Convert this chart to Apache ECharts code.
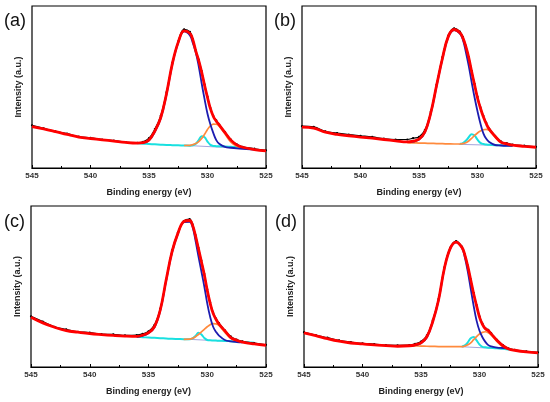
<!DOCTYPE html>
<html>
<head>
<meta charset="utf-8">
<script src="https://cdn.jsdelivr.net/npm/echarts/dist/echarts.min.js"></script>
<style>
	html, body { margin: 0; padding: 0; background: #fff; }
	#xps { width: 550px; height: 402px; }
</style>
</head>
<body>
<div id="xps"></div>
<script>
/** O 1s 谱 四个面板 */
// 结合能网格 (eV), 峰区加密
let energy = [545, 544, 543, 542, 541, 540, 539, 538, 537, 536, 535.5, 535, 534.5, 534, 533.5, 533, 532.5, 532, 531.5, 531.25, 531, 530.75, 530.5, 530.25, 530, 529.75, 529.5, 529.25, 529, 528.5, 528, 527.5, 527, 526, 525];
let x_ticks = [545, 540, 535, 530, 525];
let panel_names = ["(a)", "(b)", "(c)", "(d)"];

// (a)
let dataA = [26.4, 24.5, 22.6, 21.2, 19.4, 18.6, 17.5, 16.9, 16.0, 15.5, 16.2, 18.4, 24.0, 32.2, 46.8, 65.0, 78.2, 85.6, 84.0, 79.4, 72.6, 66.9, 59.8, 51.6, 44.0, 37.0, 32.0, 29.4, 26.8, 22.1, 17.5, 14.6, 13.0, 11.9, 10.9];
let fitA = [25.6, 24.2, 22.5, 20.7, 19.1, 18.2, 17.4, 16.6, 15.8, 15.4, 15.6, 17.3, 22.8, 31.0, 46.0, 64.6, 77.7, 84.7, 83.1, 79.0, 72.2, 66.3, 59.2, 51.0, 43.5, 36.6, 31.8, 28.9, 26.6, 21.8, 17.2, 14.3, 12.8, 11.4, 10.6];
let peak1A = [null, null, null, null, null, null, null, null, null, 15.4, 15.5, 17.0, 22.3, 30.5, 45.5, 64.2, 77.3, 84.3, 81.8, 77.0, 71.3, 62.8, 52.3, 42.5, 33.5, 26.8, 21.5, 17.2, 15.0, 13.0, 12.5, 12.1, 11.8, 11.3, null];
let peak2A = [null, null, null, null, null, null, null, null, null, 15.2, 15.0, 14.8, 14.6, 14.4, 14.2, 14.1, 14.0, 13.9, 13.8, 14.0, 15.0, 17.2, 19.6, 19.0, 16.3, 14.3, 13.6, 13.5, 13.4, 13.3, 13.1, 12.9, 12.6, 11.6, null];
let peak3A = [null, null, null, null, null, null, null, null, null, null, null, null, null, null, null, null, null, 13.9, 14.0, 14.4, 15.1, 16.3, 18.2, 20.8, 23.8, 26.0, 27.1, 27.0, 25.8, 21.0, 16.0, 13.5, 12.6, null, null];
let bgXA = [532, 526.9];
let bgA = [14.0, 12.1];

// (b)
let dataB = [25.8, 25.4, 22.6, 21.6, 20.6, 19.9, 19.2, 18.1, 17.6, 17.6, 18.4, 19.2, 23.4, 34.5, 51.5, 68.4, 81.8, 86.2, 84.2, 80.9, 75.5, 68.6, 60.0, 51.9, 44.0, 37.4, 32.2, 27.8, 24.3, 19.9, 16.4, 15.3, 14.5, 13.8, 13.1];
let fitB = [25.2, 24.6, 22.1, 20.7, 19.9, 19.1, 18.4, 17.6, 16.8, 16.1, 16.6, 17.8, 22.2, 33.8, 50.9, 67.6, 81.1, 85.5, 83.5, 80.3, 75.0, 68.2, 59.5, 51.3, 43.2, 37.0, 31.6, 27.3, 24.0, 19.6, 16.0, 14.9, 14.1, 13.4, 12.8];
let peak1B = [null, null, null, null, null, null, null, null, null, 16.0, 16.3, 17.5, 21.8, 33.4, 50.5, 67.3, 80.8, 85.2, 83.0, 79.2, 71.8, 63.0, 53.0, 43.5, 35.0, 27.5, 21.4, 18.0, 16.0, 14.2, 13.9, 13.7, 13.6, null, null];
let peak2B = [null, null, null, null, null, null, null, null, null, null, null, null, null, null, null, null, null, null, 14.9, 15.4, 16.8, 19.0, 20.9, 20.0, 17.5, 15.5, 14.8, 14.5, 14.3, 14.1, 14.0, 13.9, 13.8, null, null];
let peak3B = [null, null, null, null, null, null, null, null, null, 15.6, 15.5, 15.4, 15.3, 15.2, 15.1, 15.0, 14.9, 14.8, 14.8, 15.0, 15.6, 16.7, 18.3, 20.1, 21.6, 22.8, 23.6, 23.9, 23.2, 19.2, 15.8, 14.3, 13.8, null, null];
let bgXB = [531.6, 527.2];
let bgB = [14.6, 13.8];

// (c)
let dataC = [31.5, 28.2, 25.0, 23.4, 21.9, 21.4, 20.4, 20.3, 19.6, 19.8, 20.6, 22.2, 26.0, 36.2, 54.2, 72.4, 83.6, 90.6, 91.8, 88.6, 82.0, 74.0, 66.1, 57.8, 48.2, 40.0, 34.0, 30.1, 27.2, 22.8, 19.0, 17.0, 15.9, 14.8, 13.8];
let fitC = [30.9, 27.4, 24.7, 22.6, 21.6, 20.7, 20.1, 19.6, 19.2, 19.0, 19.8, 21.3, 25.0, 35.4, 54.0, 71.5, 83.0, 90.3, 91.0, 88.0, 81.5, 73.5, 65.5, 57.3, 47.6, 39.5, 33.3, 29.5, 26.7, 22.5, 18.3, 16.6, 15.4, 14.3, 13.5];
let peak1C = [null, null, null, null, null, null, null, null, null, 18.8, 19.4, 21.0, 24.5, 35.0, 53.5, 71.1, 82.6, 89.9, 90.2, 87.0, 78.5, 68.8, 59.5, 50.0, 39.5, 31.0, 25.0, 21.8, 19.5, 16.8, 15.9, 15.5, 15.3, null, null];
let peak2C = [null, null, null, null, null, null, null, null, null, 18.7, 18.5, 18.3, 18.1, 17.9, 17.7, 17.5, 17.4, 17.3, 17.3, 17.8, 19.3, 21.2, 20.2, 18.0, 16.8, 16.6, 16.5, 16.4, 16.3, 16.2, 16.0, 15.8, 15.6, 15.1, null];
let peak3C = [null, null, null, null, null, null, null, null, null, null, null, null, null, null, null, null, null, 17.2, 17.3, 17.8, 18.8, 20.2, 21.8, 23.4, 25.0, 26.3, 27.0, 26.8, 25.8, 21.5, 18.0, 16.0, 15.4, null, null];
let bgXC = [531.6, 527.4];
let bgC = [17.2, 15.7];

// (d)
let dataD = [21.6, 19.8, 18.2, 16.5, 15.5, 14.7, 14.3, 13.6, 13.5, 13.6, 14.4, 15.8, 19.6, 29.0, 42.3, 61.9, 74.2, 78.2, 74.8, 70.0, 63.0, 54.5, 46.1, 38.5, 31.5, 27.0, 24.2, 23.0, 21.0, 16.9, 13.6, 11.5, 10.7, 9.7, 9.1];
let fitD = [21.2, 19.5, 17.6, 16.0, 14.9, 14.3, 13.7, 13.3, 12.9, 13.2, 13.8, 15.0, 18.8, 28.1, 41.6, 61.3, 73.7, 77.6, 74.3, 69.5, 62.5, 54.0, 45.5, 38.0, 31.0, 26.5, 23.8, 22.6, 20.6, 16.5, 13.2, 11.2, 10.4, 9.4, 8.8];
let peak1D = [null, null, null, null, null, null, null, null, null, 13.0, 13.6, 14.8, 18.3, 27.9, 41.4, 61.1, 73.5, 77.4, 74.0, 68.0, 59.2, 48.5, 38.0, 28.8, 22.5, 18.5, 15.6, 13.6, 12.8, 12.0, 11.8, 11.6, null, null, null];
let peak2D = [null, null, null, null, null, null, null, null, null, null, null, null, null, null, null, null, null, null, 12.7, 13.4, 15.3, 17.8, 18.6, 16.5, 14.0, 12.5, 12.2, 12.0, 11.9, 11.6, 11.3, 10.9, 10.5, null, null];
let peak3D = [null, null, null, null, null, null, null, null, null, 13.2, 13.1, 13.0, 12.9, 12.8, 12.7, 12.7, 12.6, 12.6, 12.6, 13.0, 13.8, 15.0, 17.0, 18.9, 20.5, 21.5, 21.9, 21.3, 19.8, 15.8, 12.6, 11.2, 10.6, null, null];
let bgXD = [531.6, 527.4];
let bgD = [12.6, 11.1];

let panels = [
	{ data: dataA, fit: fitA, p1: peak1A, p2: peak2A, p3: peak3A, bgX: bgXA, bg: bgA },
	{ data: dataB, fit: fitB, p1: peak1B, p2: peak2B, p3: peak3B, bgX: bgXB, bg: bgB },
	{ data: dataC, fit: fitC, p1: peak1C, p2: peak2C, p3: peak3C, bgX: bgXC, bg: bgC },
	{ data: dataD, fit: fitD, p1: peak1D, p2: peak2D, p3: peak3D, bgX: bgXD, bg: bgD },
];

// 面板位置 (a) (b) (c) (d)
let grid_boxes = [
	{ left: 32, top: 6, width: 234, height: 162 },
	{ left: 302, top: 6, width: 234, height: 162 },
	{ left: 31, top: 206, width: 235, height: 161 },
	{ left: 304, top: 206, width: 234, height: 161 },
];
let label_pos = [
	{ left: 4, top: 12 },
	{ left: 274, top: 12 },
	{ left: 4, top: 213 },
	{ left: 275, top: 213 },
];

// 颜色
let colors = { data: "#000000", fit: "#ff0000", p1: "#1c1cb0", p2: "#19e0e0", p3: "#ff8a3d", bg: "#a4a4dc" };
let font = "Liberation Sans, Arial, sans-serif";

function pairs(arr) {
	return energy.map(function (e, k) {
		return [e, arr[k] === null ? "-" : arr[k]];
	});
}

function line(i, arr, color, width, z, extra) {
	return Object.assign(
		{
			type: "line",
			xAxisIndex: i,
			yAxisIndex: i,
			data: arr,
			smooth: 0.4,
			symbol: "none",
			connectNulls: false,
			lineStyle: { color: color, width: width },
			itemStyle: { color: color },
			z: z,
			silent: true,
		},
		extra || {}
	);
}

let xps_chart = echarts.init(document.getElementById("xps"));

let grids = [];
let xAxes = [];
let yAxes = [];
let titles = [];
let series = [];

panels.forEach(function (p, i) {
	grids.push(
		Object.assign({ show: true, borderColor: "#000", borderWidth: 1.2, backgroundColor: "transparent" }, grid_boxes[i])
	);
	xAxes.push({
		gridIndex: i,
		type: "value",
		inverse: true, // 结合能从大到小
		min: 525,
		max: 545,
		interval: 5,
		name: "Binding energy (eV)",
		nameLocation: "middle",
		nameGap: 20,
		nameTextStyle: { fontSize: 9, fontWeight: "bold", color: "#222", fontFamily: font },
		axisLine: { show: true, lineStyle: { color: "#000", width: 1.2 } },
		axisTick: { show: true, inside: true, length: 3, lineStyle: { color: "#000" } },
		minorTick: { show: true, splitNumber: 2, length: 2, lineStyle: { color: "#000" } },
		axisLabel: {
			fontSize: 8,
			fontWeight: "bold",
			color: "#333",
			fontFamily: font,
			margin: 4,
			customValues: x_ticks,
		},
		splitLine: { show: false },
	});
	yAxes.push({
		gridIndex: i,
		type: "value",
		min: 0,
		max: 100,
		name: "Intensity (a.u.)",
		nameLocation: "middle",
		nameGap: 9,
		nameTextStyle: { fontSize: 9, fontWeight: "bold", color: "#222", fontFamily: font },
		axisLine: { show: false },
		axisTick: { show: false },
		axisLabel: { show: false },
		splitLine: { show: false },
	});
	titles.push({
		text: panel_names[i],
		left: label_pos[i].left,
		top: label_pos[i].top,
		padding: 0,
		textStyle: { fontSize: 18, fontWeight: "normal", color: "#111", fontFamily: font },
	});

	let bg_line = [
		[p.bgX[0], p.bg[0]],
		[p.bgX[1], p.bg[1]],
	];
	series.push(line(i, bg_line, colors.bg, 1, 1, { smooth: false }));
	series.push(line(i, pairs(p.p2), colors.p2, 2, 2));
	series.push(line(i, pairs(p.p3), colors.p3, 1.7, 3));
	series.push(line(i, pairs(p.p1), colors.p1, 1.8, 4));
	// 实验数据点
	series.push(
		line(i, pairs(p.data), colors.data, 1.2, 5, {
			symbol: "circle",
			symbolSize: 2.2,
			showSymbol: true,
		})
	);
	series.push(line(i, pairs(p.fit), colors.fit, 2.8, 6));
});

let xps_option = {
	animation: false,
	backgroundColor: "#fff",
	title: titles,
	grid: grids,
	xAxis: xAxes,
	yAxis: yAxes,
	series: series,
};
xps_chart.setOption(xps_option);
</script>
</body>
</html>
